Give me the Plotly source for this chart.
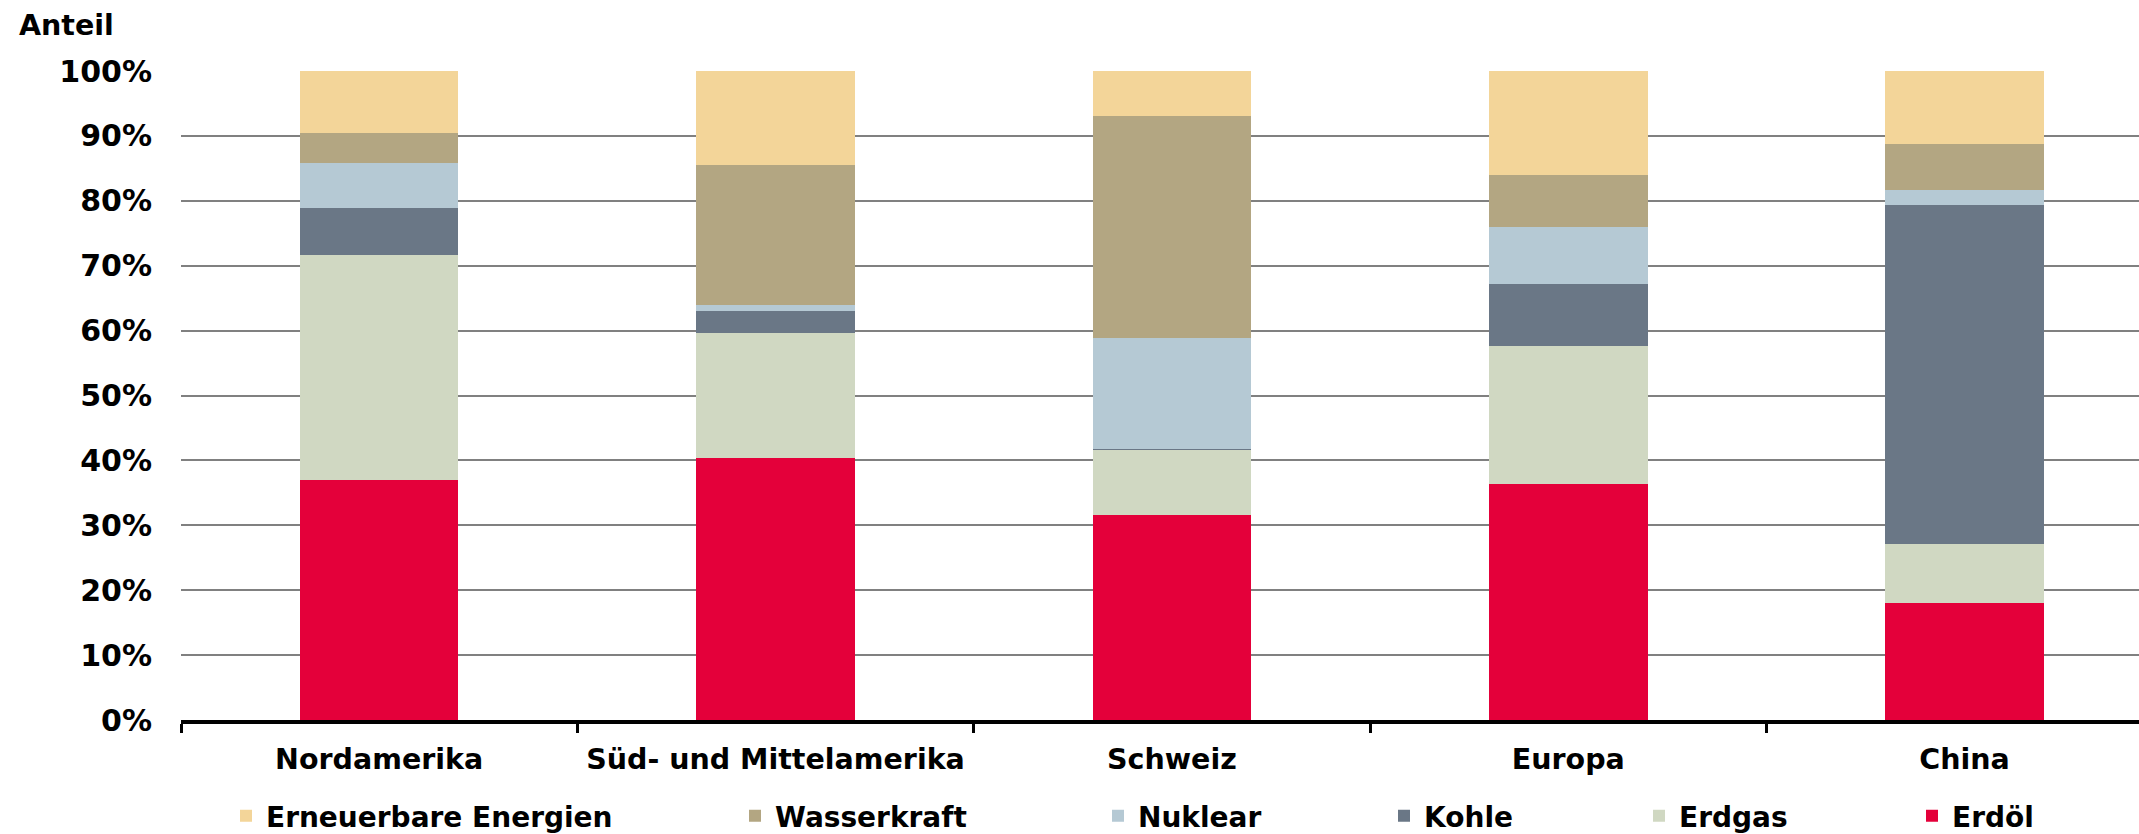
import plotly.graph_objects as go

categories = ["Nordamerika", "Süd- und Mittelamerika", "Schweiz", "Europa", "China"]

erdoel = [37.0, 40.3, 31.6, 36.4, 18.1]
erdgas = [34.6, 19.3, 10.1, 21.2, 9.0]
kohle = [7.3, 3.4, 0.1, 9.6, 52.3]
nuklear = [6.9, 0.9, 17.0, 8.7, 2.2]
wasserkraft = [4.7, 21.6, 34.3, 8.1, 7.1]
erneuerbare = [9.5, 14.5, 6.9, 16.0, 11.3]

y_ticks = [0, 10, 20, 30, 40, 50, 60, 70, 80, 90, 100]
y_tick_labels = ["0%", "10%", "20%", "30%", "40%", "50%", "60%", "70%", "80%", "90%", "100%"]

series = [
    ("Erdöl", erdoel, "#E4003A"),
    ("Erdgas", erdgas, "#D0D8C2"),
    ("Kohle", kohle, "#6A7786"),
    ("Nuklear", nuklear, "#B5C9D4"),
    ("Wasserkraft", wasserkraft, "#B3A682"),
    ("Erneuerbare Energien", erneuerbare, "#F3D599"),
]

W, H = 2139, 834
ML, MR, MT, MB = 181, 0, 71, 114
plot_w = W - ML - MR

# legend marker left edges in pixels
legend_px = {
    "Erneuerbare Energien": 240,
    "Wasserkraft": 749,
    "Nuklear": 1112,
    "Kohle": 1398,
    "Erdgas": 1653,
    "Erdöl": 1926,
}

FONT = "DejaVu Sans"
fig = go.Figure()
legend_layouts = {}
for i, (name, vals, col) in enumerate(series):
    lname = "legend" if i == 0 else f"legend{i+1}"
    fig.add_trace(go.Bar(
        x=categories, y=vals, name=name,
        marker=dict(color=col, line=dict(width=0)),
        width=0.4, legend=lname,
    ))
    xpx = legend_px[name] - 14
    legend_layouts[lname] = dict(
        x=(xpx - ML) / plot_w, xanchor="left",
        y=-0.148, yanchor="middle",
        orientation="h", bgcolor="rgba(0,0,0,0)",
        font=dict(family=FONT, size=28, color="black", weight="bold"),
        borderwidth=0, itemclick=False, itemdoubleclick=False,
    )

fig.update_layout(
    width=W, height=H,
    barmode="stack",
    bargap=0.6,
    plot_bgcolor="white", paper_bgcolor="white",
    margin=dict(l=ML, r=MR, t=MT, b=MB, pad=0, autoexpand=False),
    font=dict(family=FONT, size=28, color="black", weight="bold"),
    title=dict(text="Anteil", x=19 / W, xanchor="left", xref="container",
               y=1 - 25 / H, yanchor="middle", yref="container",
               font=dict(family=FONT, size=28.5, color="black", weight="bold")),
    showlegend=True,
    **legend_layouts,
)

fig.update_xaxes(
    range=[-0.5, 4.44],
    showline=True, linecolor="black", linewidth=4,
    ticks="outside", tickson="boundaries", ticklen=9, tickwidth=3, tickcolor="black",
    showgrid=False, zeroline=False, automargin=False,
    tickfont=dict(family=FONT, size=28.5, color="black", weight="bold"),
    ticklabelstandoff=11,
)
fig.update_yaxes(
    range=[0, 100], tickvals=y_ticks, ticktext=y_tick_labels,
    showgrid=True, gridcolor="#808080", gridwidth=1.5,
    zeroline=False, showline=False, ticks="", automargin=False,
    tickfont=dict(family=FONT, size=30, color="black", weight="bold"),
    ticklabelstandoff=28,
)

fig.write_html(
    "out.html",
    config={"displayModeBar": False},
    post_script="document.body.style.margin='0';document.body.style.overflow='hidden';",
)
